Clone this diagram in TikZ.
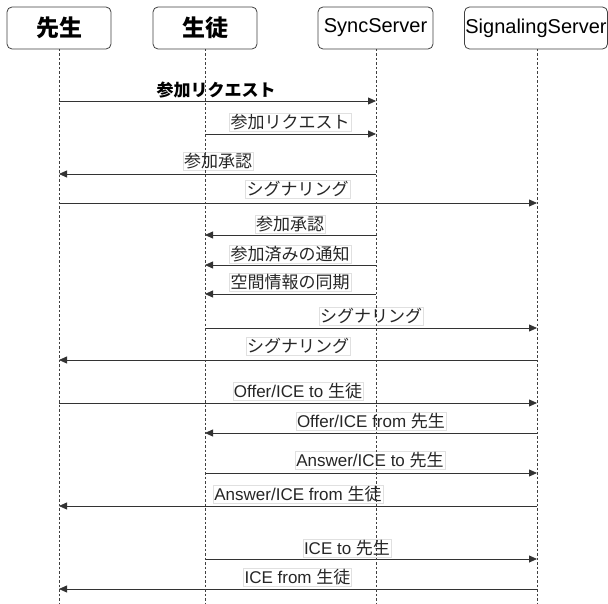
\documentclass[tikz,border=0pt]{standalone}
\usepackage{fontspec}
\setmainfont{Liberation Sans}
\newfontfamily\jp{Noto Sans CJK JP}
\usetikzlibrary{arrows.meta}
\tikzset{
  head/.style={draw=black!75, line width=0.8pt, rounded corners=5pt, minimum height=42pt, inner sep=0pt, fill=white, text=black},
  life/.style={draw=black!75, line width=0.7pt, dash pattern=on 2.5pt off 2pt},
  msg/.style={draw=black!80, line width=0.8pt, -{Triangle[length=8pt,width=7pt]}},
  lbl/.style={fill=white, draw=black!12, line width=0.4pt, inner sep=1.2pt, text=black!85, font=\jp\fontsize{17}{19}\selectfont},
  lblen/.style={lbl, font=\fontsize{17}{19}\selectfont},
  lblbold/.style={inner sep=1pt, text=black, font=\jp\bfseries\fontsize{17}{19}\selectfont},
}
\begin{document}
\begin{tikzpicture}[x=1pt,y=-1pt]
\useasboundingbox (0,0) rectangle (608,604);
% headers
\node[head, minimum width=104pt, font=\jp\bfseries\fontsize{23}{25}\selectfont] (T) at (59,28) {先生};
\node[head, minimum width=104pt, font=\jp\bfseries\fontsize{23}{25}\selectfont] (S) at (205,28) {生徒};
\node[head, minimum width=115pt, font=\fontsize{20}{22}\selectfont] (Y) at (375.5,28) {SyncServer};
\node[head, minimum width=143pt, font=\fontsize{20}{22}\selectfont] (G) at (536,28) {SignalingServer};
% lifeline ends
\coordinate (Tt) at (59,49);  \coordinate (Tb) at (59,604);
\coordinate (St) at (205,49); \coordinate (Sb) at (205,604);
\coordinate (Yt) at (376,49); \coordinate (Yb) at (376,604);
\coordinate (Gt) at (537,49); \coordinate (Gb) at (537,604);
% message rows
\foreach \n/\y in {1/101,2/134,3/174,4/203,5/235,6/265,7/294,8/328,9/360,10/403,11/433,12/473,13/506,14/559,15/589}
  \coordinate (m\n) at (0,\y);
% arrows
\draw[msg] (Tt |- m1) -- (Yt |- m1);
\draw[msg] (St |- m2) -- (Yt |- m2);
\draw[msg] (Yt |- m3) -- (Tt |- m3);
\draw[msg] (Tt |- m4) -- (Gt |- m4);
\draw[msg] (Yt |- m5) -- (St |- m5);
\draw[msg] (Yt |- m6) -- (St |- m6);
\draw[msg] (Yt |- m7) -- (St |- m7);
\draw[msg] (St |- m8) -- (Gt |- m8);
\draw[msg] (Gt |- m9) -- (Tt |- m9);
\draw[msg] (Tt |- m10) -- (Gt |- m10);
\draw[msg] (Gt |- m11) -- (St |- m11);
\draw[msg] (St |- m12) -- (Gt |- m12);
\draw[msg] (Gt |- m13) -- (Tt |- m13);
\draw[msg] (St |- m14) -- (Gt |- m14);
\draw[msg] (Gt |- m15) -- (Tt |- m15);
% labels
\node[lblbold] (l1) at (216,90) {参加リクエスト};
\node[lbl] (l2) at (290,122) {参加リクエスト};
\node[lbl] (l3) at (218,161) {参加承認};
\node[lbl] (l4) at (297.5,189) {シグナリング};
\node[lbl] (l5) at (290,224) {参加承認};
\node[lbl] (l6) at (290,254) {参加済みの通知};
\node[lbl] (l7) at (290,282.5) {空間情報の同期};
\node[lbl] (l8) at (371,316) {シグナリング};
\node[lbl] (l9) at (298,346) {シグナリング};
\node[lblen] (l10) at (298,391.5) {Offer/ICE to {\jp 生徒}};
\node[lblen] (l11) at (371,421.5) {Offer/ICE from {\jp 先生}};
\node[lblen] (l12) at (370,460) {Answer/ICE to {\jp 先生}};
\node[lblen] (l13) at (298,494.5) {Answer/ICE from {\jp 生徒}};
\node[lblen] (l14) at (347,548) {ICE to {\jp 先生}};
\node[lblen] (l15) at (297.5,577.5) {ICE from {\jp 生徒}};
% lifelines
\draw[life] (Tt) -- (Tb);
\draw[life] (St) -- (Sb);
\draw[life] (Yt) -- (Yb);
\draw[life] (Gt) -- (Gb);
\end{tikzpicture}
\end{document}
